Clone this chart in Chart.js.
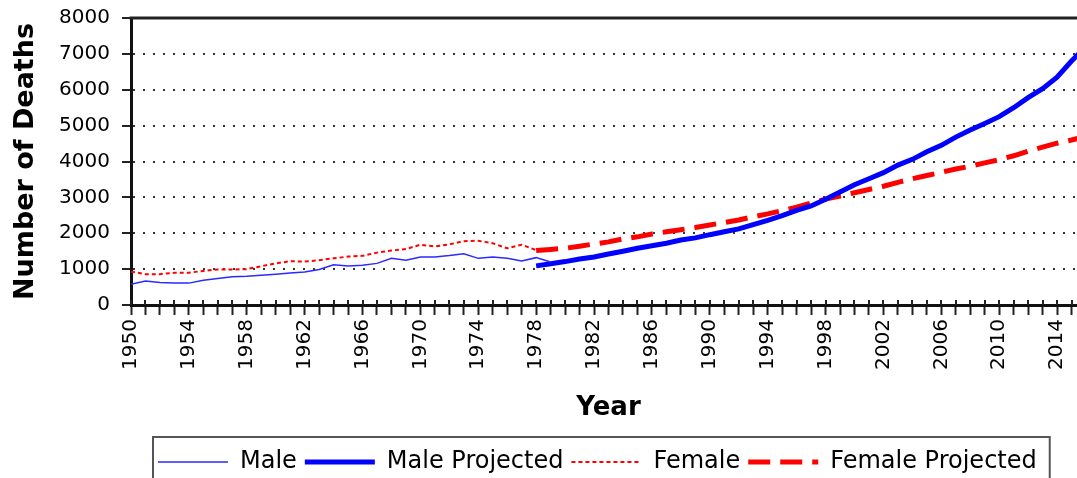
<!DOCTYPE html>
<html>
<head>
<meta charset="utf-8">
<script src="https://cdn.jsdelivr.net/npm/chart.js@4.4.0/dist/chart.umd.min.js"></script>
<style>
html,body{margin:0;padding:0;background:#fff;overflow:hidden;width:1077px;height:478px}
canvas{display:block}
</style>
</head>
<body>
<canvas id="c" width="1086" height="484"></canvas>
<script>
// ---- data ----
const maleYears = [1950,1951,1952,1953,1954,1955,1956,1957,1958,1959,1960,1961,1962,1963,1964,1965,1966,1967,1968,1969,1970,1971,1972,1973,1974,1975,1976,1977,1978,1979];
const maleActual = [580,670,630,610,610,690,740,790,800,830,860,890,920,990,1120,1090,1110,1160,1300,1250,1340,1340,1380,1430,1300,1340,1300,1230,1320,1200];

const femaleYears = [1950,1951,1952,1953,1954,1955,1956,1957,1958,1959,1960,1961,1962,1963,1964,1965,1966,1967,1968,1969,1970,1971,1972,1973,1974,1975,1976,1977,1978];
const femaleActual = [930,860,860,900,900,950,990,990,1000,1080,1160,1220,1210,1250,1300,1350,1370,1460,1520,1560,1680,1630,1690,1780,1790,1720,1580,1680,1530];

const projYears = [1978,1979,1980,1981,1982,1983,1984,1985,1986,1987,1988,1989,1990,1991,1992,1993,1994,1995,1996,1997,1998,1999,2000,2001,2002,2003,2004,2005,2006,2007,2008,2009,2010,2011,2012,2013,2014,2015,2016];
const maleProjected = [1090,1150,1210,1280,1340,1420,1500,1580,1650,1720,1810,1870,1960,2040,2120,2240,2360,2490,2640,2760,2950,3150,3350,3520,3690,3900,4060,4270,4450,4680,4880,5060,5250,5500,5780,6030,6350,6800,7200];
const femaleProjected = [1520,1550,1580,1640,1700,1760,1840,1900,1980,2040,2100,2160,2230,2300,2370,2460,2540,2630,2730,2840,2950,3040,3130,3220,3310,3420,3520,3610,3700,3790,3870,3960,4050,4160,4290,4400,4510,4600,4700];

const seriesNames = ['Male', 'Male Projected', 'Female', 'Female Projected'];
const yAxisMin = 0, yAxisMax = 8000, yAxisStep = 1000;
const xAxisMin = 1950, xAxisMax = 2016, xLabelEvery = 4;
const xTitle = 'Year';
const yTitle = 'Number of Deaths';

// ---- build ----
const pairs = (xs, ys) => xs.map((x, i) => ({x: x, y: ys[i]}));

Chart.defaults.font.family = "'DejaVu Sans', Verdana, sans-serif";
Chart.defaults.color = '#000';

const frame = {
  id: 'frame',
  beforeDraw(chart) {
    chart.legend.left = chart.chartArea.left + 19;
  },
  afterDraw(chart) {
    const ctx = chart.ctx, a = chart.chartArea, xs = chart.scales.x;
    ctx.save();
    // top border of the plot
    ctx.strokeStyle = '#222';
    ctx.lineWidth = 3;
    ctx.beginPath();
    ctx.moveTo(a.left - 1.5, a.top);
    ctx.lineTo(a.right, a.top);
    ctx.stroke();
    // x ticks cross the axis line
    ctx.lineWidth = 2;
    ctx.beginPath();
    xs.ticks.forEach(t => {
      const px = Math.round(xs.getPixelForValue(t.value));
      ctx.moveTo(px, a.bottom - 5);
      ctx.lineTo(px, a.bottom);
    });
    ctx.stroke();
    // legend frame
    const lg = chart.legend;
    const pad = lg.options.labels.padding;
    const x0 = lg.left + pad - 5;
    const x1 = lg.left + pad + lg.lineWidths[0] + 5;
    ctx.strokeStyle = '#555';
    ctx.lineWidth = 2;
    ctx.strokeRect(x0, lg.top - 5, x1 - x0, lg.height + 20);
    ctx.restore();
  }
};

new Chart(document.getElementById('c'), {
  type: 'line',
  data: {
    datasets: [
      { label: seriesNames[0], data: pairs(maleYears, maleActual), borderColor: '#2a2aff', borderWidth: 1.5, pointRadius: 0, tension: 0 },
      { label: seriesNames[1], data: pairs(projYears, maleProjected), borderColor: '#0000ff', borderWidth: 5, pointRadius: 0, tension: 0 },
      { label: seriesNames[2], data: pairs(femaleYears, femaleActual), borderColor: '#ff0000', borderWidth: 2, borderDash: [4, 3], pointRadius: 0, tension: 0 },
      { label: seriesNames[3], data: pairs(projYears, femaleProjected), borderColor: '#ff0000', borderWidth: 5, borderDash: [22, 10], pointRadius: 0, tension: 0 }
    ]
  },
  options: {
    responsive: false,
    animation: false,
    devicePixelRatio: 1,
    events: [],
    layout: { padding: { top: 18, left: 0, right: 0, bottom: 0 } },
    plugins: {
      tooltip: { enabled: false },
      legend: {
        position: 'bottom',
        align: 'start',
        labels: {
          usePointStyle: true,
          pointStyleWidth: 70,
          padding: 8,
          color: '#000',
          font: { size: 24 },
          generateLabels(chart) {
            return chart.data.datasets.map((ds, i) => ({
              text: ds.label,
              strokeStyle: ds.borderColor,
              fillStyle: ds.borderColor,
              lineWidth: ds.borderWidth,
              lineDash: ds.borderDash || [],
              lineCap: 'butt',
              pointStyle: 'line',
              hidden: false,
              fontColor: '#000',
              datasetIndex: i
            }));
          }
        }
      }
    },
    scales: {
      x: {
        type: 'linear',
        min: xAxisMin,
        max: xAxisMax,
        afterFit(s) { s.height = 137; s.paddingLeft = 0; s.paddingRight = 0; },
        grid: { display: true, drawOnChartArea: false, drawTicks: true, tickLength: 10, tickWidth: 2, tickColor: '#222' },
        border: { display: true, color: '#111', width: 3 },
        ticks: {
          stepSize: 1, autoSkip: false, minRotation: 90, maxRotation: 90, padding: 4,
          color: '#000', font: { size: 20 },
          callback: v => ((v - xAxisMin) % xLabelEvery === 0 ? String(v) : '')
        },
        title: { display: true, text: xTitle, color: '#000', font: { size: 26, weight: 'bold' }, padding: { top: 0, bottom: 18 } }
      },
      y: {
        min: yAxisMin,
        max: yAxisMax,
        afterFit(s) { s.width = 131; s.paddingTop = 0; s.paddingBottom = 0; },
        grid: {
          color: c => (c.tick && (c.tick.value === yAxisMin || c.tick.value === yAxisMax)) ? 'rgba(0,0,0,0)' : '#333',
          lineWidth: 2, tickColor: '#222', tickLength: 9, tickWidth: 2
        },
        border: { display: true, color: '#111', width: 3, dash: [2, 8] },
        ticks: { stepSize: yAxisStep, padding: 12, color: '#000', font: { size: 20 }, callback: v => String(v) },
        title: { display: true, text: yTitle, color: '#000', font: { size: 27, weight: 'bold' }, padding: { top: 10, bottom: 0 } }
      }
    }
  },
  plugins: [frame]
});
</script>
</body>
</html>
